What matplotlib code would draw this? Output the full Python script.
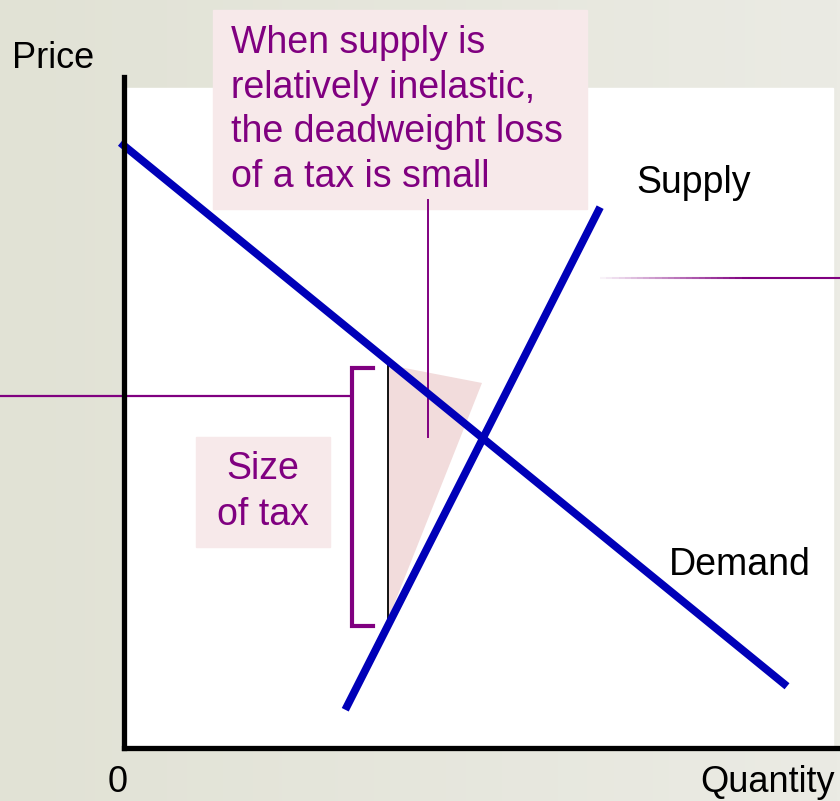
import numpy as np
import matplotlib.pyplot as plt
from matplotlib.patches import Rectangle, Polygon
from matplotlib.collections import LineCollection

plt.rcParams['font.family'] = ['Liberation Sans', 'DejaVu Sans']

# curve endpoints (quantity, price) on a 0-100 scale
demand_q = [-0.5, 92.6]
demand_p = [90.2, 9.2]
supply_q = [30.9, 66.5]
supply_p = [5.7, 80.6]

# deadweight-loss wedge and tax markers
dwl_q = [36.9, 50.0, 36.9]
dwl_p = [57.1, 54.4, 19.2]
tax_q = 36.9
tax_p = [57.1, 19.2]
bracket_q = [34.8, 31.8, 31.8, 34.8]
bracket_p = [56.6, 56.6, 18.2, 18.2]
pointer_left_q = [-17.3, 31.8]
pointer_left_p = 52.4
pointer_dwl_q = 42.5
pointer_dwl_p = [81.7, 46.3]
pointer_right_q = [66.5, 100.0]
pointer_right_p = 70.0

box_lines = ["When supply is", "relatively inelastic,",
             "the deadweight loss", "of a tax is small"]
tax_lines = ["Size", "of tax"]

W, H = 840, 801
BLUE = '#0000b8'
PURPLE = '#800080'
PINK_BOX = '#f7e9ea'
WEDGE = '#f2dcdc'

fig = plt.figure(figsize=(W / 100, H / 100), dpi=100)

# --- background layer in pixel coordinates ---
bg = fig.add_axes([0, 0, 1, 1])
bg.set_xlim(0, W)
bg.set_ylim(H, 0)
bg.axis('off')
grad = np.linspace(0, 1, 256).reshape(1, -1)
bg.imshow(grad, extent=[0, W, H, 0], aspect='auto',
          cmap=plt.matplotlib.colors.LinearSegmentedColormap.from_list(
              'bg', ['#e1e2d5', '#ebebe4']), zorder=0)
bg.add_patch(Rectangle((124, 88), 709, 660, color='white', zorder=1))

# annotation boxes
bg.add_patch(Rectangle((213, 10), 374, 199, color=PINK_BOX, zorder=2))
bg.add_patch(Rectangle((196, 437), 134, 110, color=PINK_BOX, zorder=2))
for i, line in enumerate(box_lines):
    bg.text(231, 53 + 44.7 * i, line, color=PURPLE, fontsize=27,
            ha='left', va='baseline', zorder=3)
for i, line in enumerate(tax_lines):
    bg.text(263, 479 + 46 * i, line, color=PURPLE, fontsize=27,
            ha='center', va='baseline', zorder=3)

# axis labels
bg.text(12, 68, "Price", fontsize=26, ha='left', va='baseline', zorder=3)
bg.text(118, 792, "0", fontsize=26, ha='center', va='baseline', zorder=3)
bg.text(835, 792, "Quantity", fontsize=26, ha='right', va='baseline', zorder=3)
bg.text(636, 193, "Supply", fontsize=27, ha='left', va='baseline', zorder=3)
bg.text(669, 575, "Demand", fontsize=27, ha='left', va='baseline', zorder=3)

# --- main diagram axes ---
ax = fig.add_axes([124 / W, (H - 748) / H, 716 / W, 671 / H])
ax.patch.set_alpha(0)
ax.set_xlim(0, 100)
ax.set_ylim(0, 100)
ax.set_xticks([])
ax.set_yticks([])
for side in ['top', 'right']:
    ax.spines[side].set_visible(False)
for side in ['left', 'bottom']:
    ax.spines[side].set_linewidth(3.8)
    ax.spines[side].set_zorder(6)

ax.add_patch(Polygon(np.column_stack([dwl_q, dwl_p]), closed=True,
                     color=WEDGE, lw=0, zorder=1))
ax.plot([tax_q, tax_q], tax_p, color='black', lw=1.3, zorder=2)

ax.plot(bracket_q, bracket_p, color=PURPLE, lw=3.0, zorder=3,
        solid_joinstyle='miter', clip_on=False)
ax.plot(pointer_left_q, [pointer_left_p] * 2, color=PURPLE, lw=1.6,
        zorder=3, clip_on=False)
ax.plot([pointer_dwl_q] * 2, pointer_dwl_p, color=PURPLE, lw=1.4,
        zorder=3, clip_on=False)

# right pointer fades in from the left
xs = np.linspace(pointer_right_q[0], pointer_right_q[1], 40)
segs = [[(xs[i], pointer_right_p), (xs[i + 1], pointer_right_p)] for i in range(len(xs) - 1)]
alphas = np.clip(np.linspace(0.05, 1.6, len(segs)), 0, 1)
cols = [(0.5, 0, 0.5, a) for a in alphas]
ax.add_collection(LineCollection(segs, colors=cols, linewidths=1.5, zorder=3,
                                 clip_on=False))

ax.plot(demand_q, demand_p, color=BLUE, lw=5.6, zorder=4, clip_on=False,
        solid_capstyle='butt')
ax.plot(supply_q, supply_p, color=BLUE, lw=5.6, zorder=4, clip_on=False,
        solid_capstyle='butt')

fig.savefig('out.png', dpi=100)
